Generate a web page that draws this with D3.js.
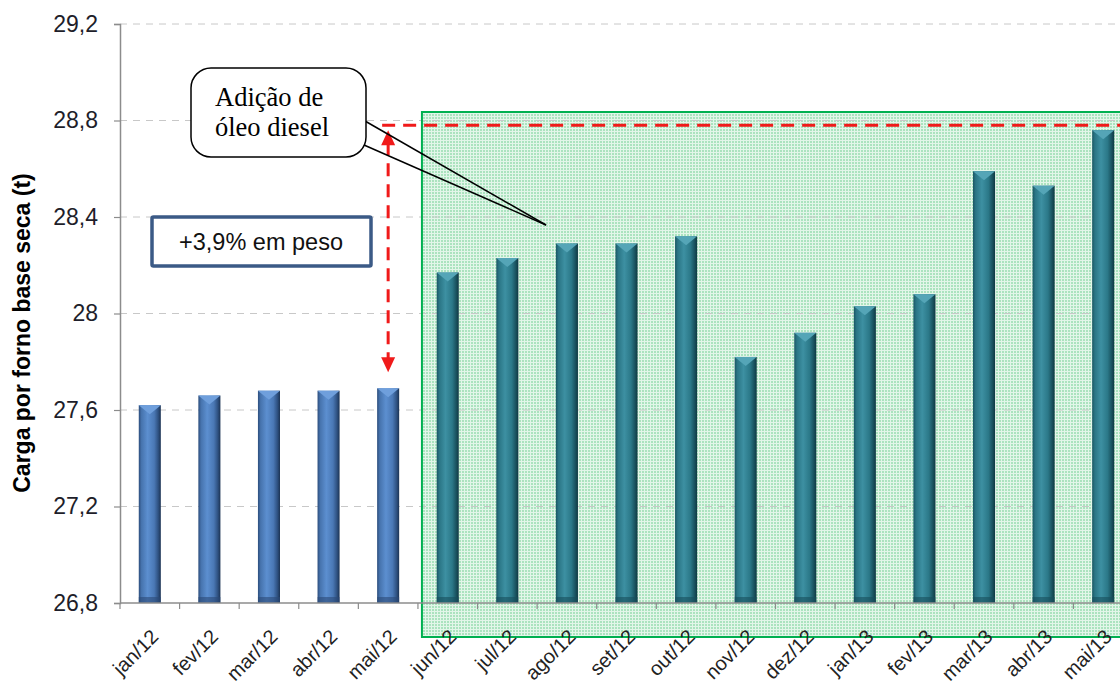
<!DOCTYPE html>
<html>
<head>
<meta charset="utf-8">
<script src="https://cdn.jsdelivr.net/npm/d3@7"></script>
<style>
  html, body { margin: 0; padding: 0; background: #fff; }
  svg { display: block; }
</style>
</head>
<body>
<script>
// Monthly dry-basis furnace charge (t)
const months = ["jan/12","fev/12","mar/12","abr/12","mai/12","jun/12","jul/12","ago/12","set/12","out/12","nov/12","dez/12","jan/13","fev/13","mar/13","abr/13","mai/13"];
const charge = [27.62, 27.66, 27.68, 27.68, 27.69, 28.17, 28.23, 28.29, 28.29, 28.32, 27.82, 27.92, 28.03, 28.08, 28.59, 28.53, 28.76];
const yTicks = [26.8, 27.2, 27.6, 28.0, 28.4, 28.8, 29.2];
const yTickLabels = ["26,8", "27,2", "27,6", "28", "28,4", "28,8", "29,2"];
const dieselStart = "jun/12";     // first month with diesel oil addition
const targetLevel = 28.78;         // reference level reached after the change
const calloutLines = ["Adição de", "óleo diesel"];
const gainLabel = "+3,9% em peso";
const yTitle = "Carga por forno base seca (t)";

const W = 1120, H = 691;
const svg = d3.select("body").append("svg").attr("width", W).attr("height", H);

const x = d3.scaleBand().domain(months).range([120, 1133]).paddingInner(0.63).paddingOuter(0.315);
const y = d3.scaleLinear().domain([26.8, 29.2]).range([603, 24]);
const step = x.step();
const x0 = x.range()[0];
const sans = "Liberation Sans, Arial, sans-serif";

const defs = svg.append("defs");
// green grid hatch for the diesel period
const pat = defs.append("pattern").attr("id", "grid").attr("patternUnits", "userSpaceOnUse")
  .attr("width", 3).attr("height", 3);
pat.append("rect").attr("width", 3).attr("height", 3).attr("fill", "#e2f6e9");
pat.append("rect").attr("width", 2).attr("height", 2).attr("fill", "#abe3bf");

function barGradient(id, stops) {
  const g = defs.append("linearGradient").attr("id", id).attr("x1", 0).attr("x2", 1).attr("y1", 0).attr("y2", 0);
  stops.forEach(([o, c]) => g.append("stop").attr("offset", o).attr("stop-color", c));
}
barGradient("gBlue", [[0, "#2c4d7c"], [0.12, "#4673ad"], [0.4, "#5c8fd0"], [0.7, "#4a78b5"], [0.88, "#2f5282"], [1, "#1c3353"]]);
barGradient("gTeal", [[0, "#1a5664"], [0.12, "#2a7585"], [0.4, "#3d90a2"], [0.7, "#2b7888"], [0.88, "#1a5360"], [1, "#0f3942"]]);

// diesel period shading
const gx = x0 + step * months.indexOf(dieselStart) + 4;
svg.append("rect").attr("x", gx).attr("y", 112).attr("width", W - gx + 10).attr("height", 637 - 112)
  .attr("fill", "url(#grid)");

// horizontal gridlines
svg.append("g").selectAll("line").data(yTicks.filter(t => t > 26.8)).join("line")
  .attr("x1", x0).attr("x2", W).attr("y1", d => y(d)).attr("y2", d => y(d))
  .attr("stroke", "#c8c8c8").attr("stroke-width", 1).attr("stroke-dasharray", "7,6");

// bars
const bars = svg.append("g");
months.forEach((m, i) => {
  const v = charge[i];
  const bx = x(m), bw = x.bandwidth(), top = y(v), bot = y(26.8);
  const teal = i >= months.indexOf(dieselStart);
  bars.append("rect").attr("x", bx).attr("y", top).attr("width", bw).attr("height", bot - top)
    .attr("fill", `url(#${teal ? "gTeal" : "gBlue"})`);
  // bevelled top
  bars.append("path")
    .attr("d", `M${bx},${top} L${bx + bw},${top} L${bx + bw / 2},${top + 9} Z`)
    .attr("fill", teal ? "#55a5b7" : "#6f9fdc");
  bars.append("rect").attr("x", bx).attr("y", bot - 6).attr("width", bw).attr("height", 6)
    .attr("fill", teal ? "#174f5b" : "#2b4a76").attr("opacity", 0.6);
});

// outline of the diesel period
svg.append("rect").attr("x", gx).attr("y", 112).attr("width", W - gx + 10).attr("height", 637 - 112)
  .attr("fill", "none").attr("stroke", "#00b050").attr("stroke-width", 2);

// axes
const yAxis = svg.append("g").attr("transform", `translate(${x0},0)`)
  .call(d3.axisLeft(y).tickValues(yTicks).tickSize(6).tickFormat((d, i) => yTickLabels[i]));
yAxis.select(".domain").attr("stroke", "#8c8c8c").attr("stroke-width", 1.5);
yAxis.selectAll(".tick line").attr("stroke", "#8c8c8c").attr("stroke-width", 1.2);
yAxis.selectAll(".tick text").attr("x", -22).attr("font-family", sans)
  .attr("font-size", 23).attr("fill", "#1e1e2a");

const xAxis = svg.append("g").attr("transform", `translate(0,${y(26.8)})`);
xAxis.append("line").attr("x1", x0).attr("x2", W).attr("stroke", "#8c8c8c").attr("stroke-width", 1.5);
xAxis.selectAll("line.tk").data(d3.range(months.length + 1)).join("line").attr("class", "tk")
  .attr("x1", i => x0 + i * step).attr("x2", i => x0 + i * step).attr("y1", 0).attr("y2", 6)
  .attr("stroke", "#8c8c8c").attr("stroke-width", 1.2);
xAxis.selectAll("text").data(months).join("text")
  .attr("transform", m => `translate(${x(m) + x.bandwidth() / 2 + 5},${30}) rotate(-45)`)
  .attr("text-anchor", "end").attr("dy", "0.35em")
  .attr("font-family", sans).attr("font-size", 20).attr("fill", "#222")
  .text(d => d);

// y-axis title
svg.append("text").attr("transform", "translate(30,333) rotate(-90)").attr("text-anchor", "middle")
  .attr("font-family", sans).attr("font-size", 23).attr("font-weight", "bold")
  .attr("fill", "#000").text(yTitle);

// red dashed reference line and double arrow
const red = "#f01a1a";
const ax = x("mai/12") + x.bandwidth() / 2;
svg.append("line").attr("x1", ax - 6).attr("x2", W).attr("y1", y(targetLevel)).attr("y2", y(targetLevel))
  .attr("stroke", red).attr("stroke-width", 3).attr("stroke-dasharray", "13,8");
const aTop = y(targetLevel) + 5, aBot = y(charge[4]) - 16;
svg.append("line").attr("x1", ax).attr("x2", ax).attr("y1", aTop + 12).attr("y2", aBot - 12)
  .attr("stroke", red).attr("stroke-width", 3).attr("stroke-dasharray", "13,8");
svg.append("path").attr("d", `M${ax},${aTop} L${ax - 7},${aTop + 15} L${ax + 7},${aTop + 15} Z`).attr("fill", red);
svg.append("path").attr("d", `M${ax},${aBot} L${ax - 7},${aBot - 15} L${ax + 7},${aBot - 15} Z`).attr("fill", red);

// gain label box
svg.append("rect").attr("x", 152).attr("y", 217).attr("width", 219).attr("height", 49)
  .attr("fill", "#fff").attr("stroke", "#3b5a86").attr("stroke-width", 3.5).attr("rx", 1.5);
svg.append("text").attr("x", 261).attr("y", 242).attr("dy", "0.35em").attr("text-anchor", "middle")
  .attr("font-family", sans).attr("font-size", 23.5).attr("fill", "#111")
  .text(gainLabel);

// speech callout
const tip = [546, 225];
svg.append("line").attr("x1", 365).attr("y1", 121).attr("x2", tip[0]).attr("y2", tip[1])
  .attr("stroke", "#000").attr("stroke-width", 1.5);
svg.append("line").attr("x1", 364).attr("y1", 145).attr("x2", tip[0]).attr("y2", tip[1])
  .attr("stroke", "#000").attr("stroke-width", 1.5);
svg.append("rect").attr("x", 191).attr("y", 68).attr("width", 175).attr("height", 89).attr("rx", 20)
  .attr("fill", "#fff").attr("stroke", "#000").attr("stroke-width", 1.5);
svg.append("text").attr("font-family", "Liberation Serif, Times New Roman, serif").attr("font-size", 26.5)
  .attr("fill", "#000").selectAll("tspan").data(calloutLines).join("tspan")
  .attr("x", 215).attr("y", (d, i) => 106 + i * 30).text(d => d);
</script>
</body>
</html>
